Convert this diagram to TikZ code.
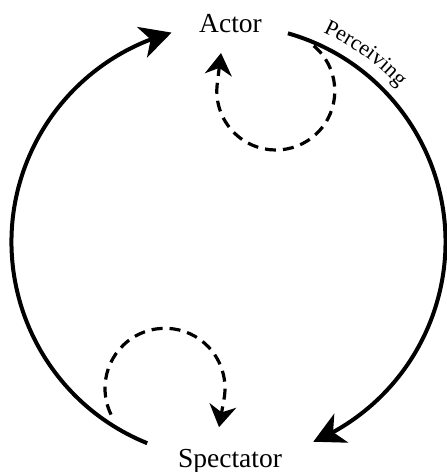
\documentclass[tikz,border=0pt]{standalone}
\usepackage{fontspec}
\setmainfont{Liberation Serif}
\usetikzlibrary{arrows.meta,bending,decorations.text,calc}
\begin{document}
\begin{tikzpicture}[x=1pt,y=1pt,
  mainarc/.style={line width=4pt},
  dasharc/.style={line width=3.2pt, dash pattern=on 11pt off 7pt},
  bigtip/.style={-{Stealth[length=31pt,width=32pt,inset=9pt]}},
  smalltip/.style={-{Stealth[length=22pt,width=27pt,inset=7pt]}},
  lbl/.style={font=\fontsize{27.5}{30}\selectfont, inner sep=0pt, anchor=base}]
\useasboundingbox (0,0) rectangle (447,472);
\coordinate (C) at (228.5,230);
\coordinate (CA) at (275.8,381);
\coordinate (CS) at (165,83.7);
\node[lbl] (actor) at (230.5,439) {Actor};
\node[lbl] (spectator) at (230,5) {Spectator};
% left arc: spectator -> actor
\coordinate (ls) at ($(C)+(248:217pt)$);
\draw[mainarc,bigtip] (ls) arc[start angle=248, end angle=105.2, radius=217pt];
% right arc: actor -> spectator
\coordinate (rs) at ($(C)+(74.1:217pt)$);
\draw[mainarc,bigtip] (rs) arc[start angle=74.1, end angle=-67, radius=217pt];
% Perceiving label
\path[font=\fontsize{22}{23}\selectfont, decorate, decoration={text along path, text align=center,
  text={|\fontsize{22}{23}\selectfont|Perceiving}}]
  ($(C)+(68:230pt)$) arc[start angle=68, end angle=40, radius=230pt];
% dashed self loop at actor
\coordinate (as) at ($(CA)+(50:59pt)$);
\draw[dasharc,smalltip] (as) arc[start angle=50, end angle=-188, radius=59pt] -- ++(83:30pt);
% dashed self loop at spectator
\coordinate (ss) at ($(CS)+(206:60pt)$);
\draw[dasharc,smalltip] (ss) arc[start angle=206, end angle=-8, radius=60pt] -- ++(260:31pt);
\end{tikzpicture}
\end{document}
